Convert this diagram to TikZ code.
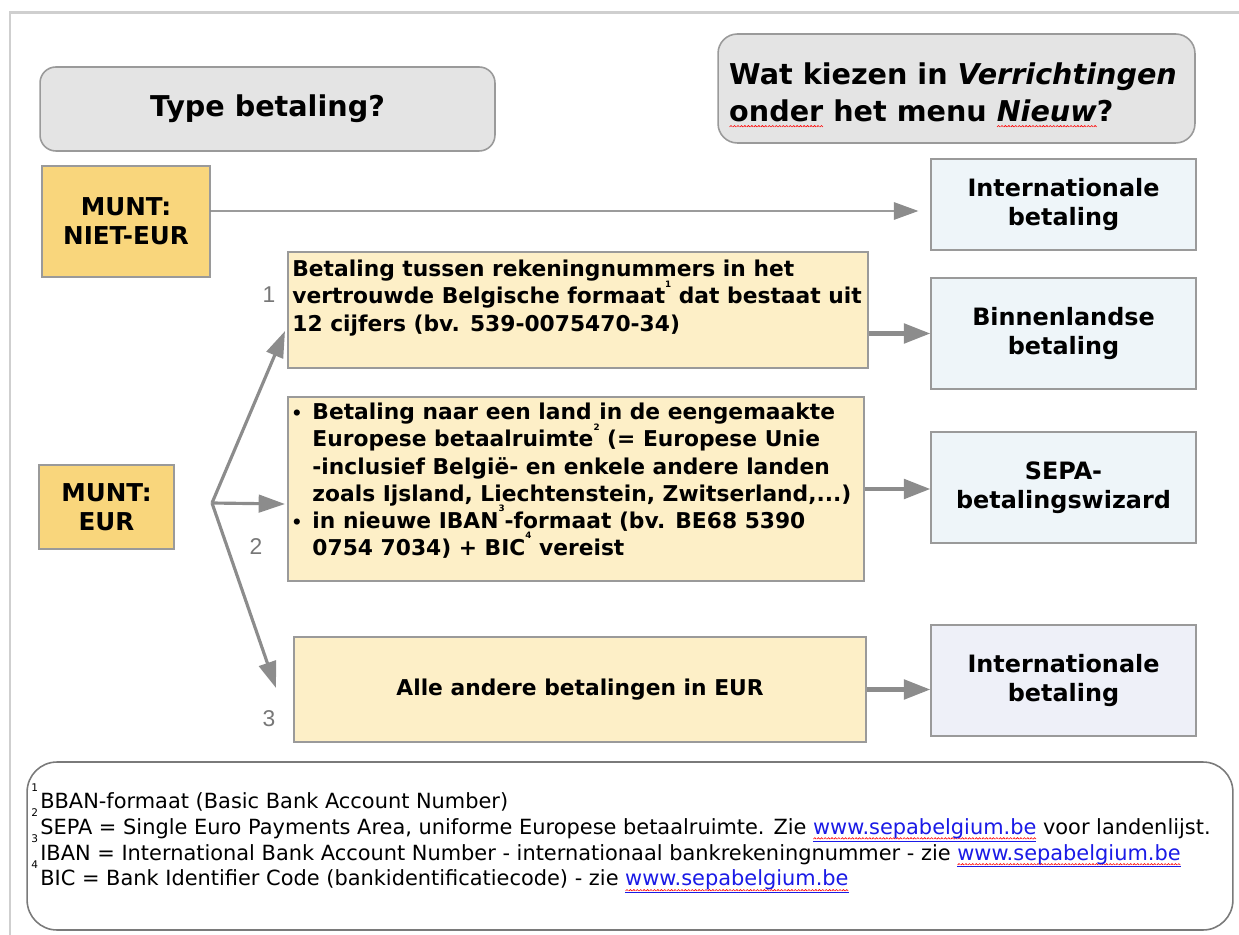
\documentclass[tikz,border=0pt]{standalone}
\usepackage{fontspec}
\setmainfont{DejaVu Sans}
\newfontfamily\nrfont{Liberation Sans}
\usetikzlibrary{arrows.meta,calc,positioning}

\definecolor{kadergrijs}{HTML}{CFCFCF}
\definecolor{titelgrijs}{HTML}{E4E4E4}
\definecolor{randgrijs}{HTML}{9A9A9A}
\definecolor{muntgeel}{HTML}{F9D67C}
\definecolor{roomgeel}{HTML}{FDEFC7}
\definecolor{lichtblauw}{HTML}{EEF5F9}
\definecolor{lichtpaars}{HTML}{EEF0F8}
\definecolor{pijlgrijs}{HTML}{8C8C8C}
\definecolor{lijngrijs}{HTML}{666666}
\definecolor{nrgrijs}{HTML}{777777}
\definecolor{voetrand}{HTML}{7A7A7A}
\definecolor{linkblauw}{HTML}{1A1AE6}

\newsavebox{\spelbox}
\newcommand{\golf}{\begin{pgfpicture}\pgfsetcornersarced{\pgfpointorigin}\pgfsetlinewidth{0.35pt}\pgfsetstrokecolor{red}\pgfpathmoveto{\pgfpoint{0pt}{0pt}}\pgfpathlineto{\pgfpoint{0.8pt}{0.8pt}}\pgfpathlineto{\pgfpoint{1.6pt}{0pt}}\pgfusepath{stroke}\end{pgfpicture}}
\newcommand{\golflijn}{\rlap{\raisebox{-3pt}{\hbox to\wd\spelbox{\xleaders\hbox{\golf}\hfill}}}\usebox{\spelbox}}
\newcommand{\spel}[1]{\sbox{\spelbox}{#1}\golflijn}
\newcommand{\link}[1]{\sbox{\spelbox}{\textcolor{linkblauw}{\underline{#1}}}\golflijn}
\newcommand{\vn}[1]{\raisebox{1.4ex}[0pt][0pt]{\tiny #1}}
\newcommand{\bol}{\makebox[12pt][l]{\scalebox{0.8}{\textbullet}}}
\newcommand{\inspr}{\hspace*{12pt}}

\begin{document}
\begin{tikzpicture}[x=0.02cm,y=-0.02cm,
    vraag/.style={draw=randgrijs,fill=titelgrijs,rounded corners=9pt,line width=0.9pt,font=\bfseries\fontsize{16.3}{21.3}\selectfont},
    munt/.style={draw=randgrijs,fill=muntgeel,line width=0.8pt,align=center,font=\bfseries\fontsize{14}{16.4}\selectfont},
    keuze/.style={draw=randgrijs,fill=roomgeel,line width=0.8pt},
    keuzetekst/.style={anchor=north west,inner sep=0pt,align=left,font=\bfseries\fontsize{12.4}{15.4}\selectfont},
    doel/.style={draw=randgrijs,fill=lichtblauw,line width=0.8pt,minimum width=5.3cm,align=center,font=\bfseries\fontsize{13.6}{16.2}\selectfont},
    nr/.style={text=nrgrijs,font=\nrfont\fontsize{13}{13}\selectfont},
    dun/.style={draw=lijngrijs,line width=0.8pt,-{Triangle[length=14pt,width=10pt,color=pijlgrijs]}},
    dik/.style={draw=pijlgrijs,line width=2.3pt,-{Triangle[length=15pt,width=11pt]}},
    tak/.style={draw=pijlgrijs,line width=1.8pt,-{Triangle[length=15pt,width=10pt]}}
  ]
  \useasboundingbox (0,0) rectangle (1239,935);
  % pagina
  \draw[kadergrijs,line width=1.7pt] (10,1000) -- (10,13) -- (1300,13);

  % vragen
  \node[vraag,minimum width=9.1cm,minimum height=1.68cm] (t1) at (267.5,109) {Type betaling?};
  \node[vraag,minimum width=9.54cm,minimum height=2.18cm,rounded corners=11pt] (t2) at (956.5,88.5) {};
  \node[align=left,font=\bfseries\fontsize{16.3}{21.3}\selectfont] (t2t) at (953,95) {Wat kiezen in \textit{Verrichtingen}\\\spel{onder} het menu \spel{\textit{Nieuw}}?};

  % munt
  \node[munt,minimum width=3.36cm,minimum height=2.22cm] (m1) at (126,221.5) {MUNT:\\NIET-EUR};
  \node[munt,minimum width=2.7cm,minimum height=1.68cm] (m2) at (106.5,507) {MUNT:\\EUR};

  % keuzes
  \node[keuze,minimum width=11.6cm,minimum height=2.32cm] (b1) at (578,310) {};
  \node[keuzetekst] (b1t) at (292,260) {Betaling tussen rekeningnummers in het\\vertrouwde Belgische formaat\vn{1} dat bestaat uit\\12 cijfers (bv. 539-0075470-34)};
  \node[keuze,minimum width=11.52cm,minimum height=3.68cm] (b2) at (576,489) {};
  \node[keuzetekst] (b2t) at (291,403) {\bol Betaling naar een land in de eengemaakte\\\inspr Europese betaalruimte\vn{2} (= Europese Unie\\\inspr -inclusief België- en enkele andere landen\\\inspr zoals Ijsland, Liechtenstein, Zwitserland,...)\\\bol in nieuwe IBAN\vn{3}-formaat (bv. BE68 5390\\\inspr 0754 7034) + BIC\vn{4} vereist};
  \node[keuze,minimum width=11.44cm,minimum height=2.1cm,font=\bfseries\fontsize{12.4}{15}\selectfont] (b3) at (580,689.5) {Alle andere betalingen in EUR};

  % doelen
  \node[doel,minimum height=1.82cm] (r1) at (1063.5,204.5) {Internationale\\betaling};
  \node[doel,minimum height=2.22cm] (r2) at (1063.5,333.5) {Binnenlandse\\betaling};
  \node[doel,minimum height=2.22cm] (r3) at (1063.5,487.5) {SEPA-\\betalingswizard};
  \node[doel,fill=lichtpaars,minimum height=2.22cm] (r4) at (1063.5,680.5) {Internationale\\betaling};

  % vertakking
  \coordinate (s) at (212,503);
  \coordinate (p1) at (285,331);
  \coordinate (p2) at (285,504);
  \coordinate (p3) at (276,688);
  \node[nr] (l1) at (269,295) {1};
  \node[nr] (l2) at (256,547) {2};
  \node[nr] (l3) at (269,719) {3};

  \draw[dun,shorten >=6.8pt] ([yshift=6pt]m1.east) -- ([yshift=-3.7pt]r1.west);
  \draw[dik] (b1.east |- r2.west) -- (r2.west);
  \draw[dik] (b2.east) -- (b2.east -| r3.west);
  \draw[dik] (b3.east) -- (b3.east -| r4.west);
  \foreach \p in {p1,p2,p3}
    \draw[tak] (s) -- (\p);

  % voetnoten
  \node[draw=voetrand,line width=0.9pt,rounded corners=17pt,minimum width=24.12cm,minimum height=3.36cm] (voet) at (630,846) {};
  \node[anchor=north west,inner sep=0pt,align=left,font=\fontsize{11.9}{14.75}\selectfont] (voett) at (40,792) {BBAN-formaat (Basic Bank Account Number)\\SEPA = Single Euro Payments Area, uniforme Europese betaalruimte. Zie \link{www.sepabelgium.be} voor landenlijst.\\IBAN = International Bank Account Number - internationaal bankrekeningnummer - zie \link{www.sepabelgium.be}\\BIC = Bank Identifier Code (bankidentificatiecode) - zie \link{www.sepabelgium.be}};
  \node[anchor=north west,inner sep=0pt,align=left,font=\fontsize{6}{14.6}\selectfont] (voetn) at (31,783) {1\\2\\3\\4};
\end{tikzpicture}
\end{document}
